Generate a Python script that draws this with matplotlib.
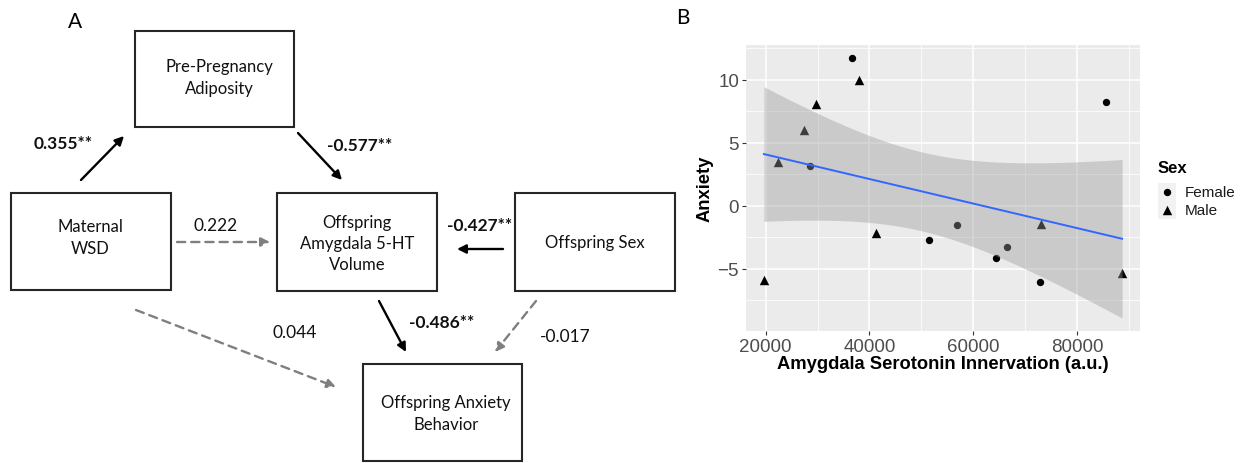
import numpy as np
import matplotlib
matplotlib.use("Agg")
import matplotlib.pyplot as plt
from matplotlib.patches import Rectangle

W, H = 1242, 464

# panel B data: amygdala 5-HT innervation vs anxiety score
female_x = [28500, 36620, 51530, 56850, 64390, 66570, 72850, 85560]
female_y = [3.16, 11.71, -2.69, -1.53, -4.14, -3.27, -6.05, 8.21]
male_x = [19670, 22300, 27350, 29710, 37960, 41170, 72980, 88640]
male_y = [-5.87, 3.48, 6.03, 8.03, 9.98, -2.19, -1.45, -5.34]
sex_levels = ["Female", "Male"]

# panel A: path model (node labels + coefficients)
node_labels = {
    "adip": "Pre-Pregnancy\nAdiposity",
    "wsd": "Maternal\nWSD",
    "amyg": "Offspring\nAmygdala 5-HT\nVolume",
    "sex": "Offspring Sex",
    "anx": "Offspring Anxiety\nBehavior",
}
path_coefs = ["0.355**", "-0.577**", "0.222", "-0.427**", "-0.486**", "0.044", "-0.017"]
path_signif = [True, True, False, True, True, False, False]

# ---- layout (pixel coords, origin top-left) ----
boxes = {
    "adip": (135, 32, 294, 128),
    "wsd": (11, 194, 171, 291),
    "amyg": (277, 194, 437, 292),
    "sex": (515, 194, 675, 292),
    "anx": (363, 365, 522, 462),
}
text_pos = {
    "adip": (219, 78), "wsd": (90, 238), "amyg": (357, 244),
    "sex": (595, 243), "anx": (446, 414),
}
arrows = [  # (start, end) for each coefficient, same order as path_coefs
    ((81, 181), (124, 137)),
    ((298, 134), (342, 181)),
    ((177, 243), (270, 243)),
    ((503, 250), (457, 250)),
    ((379, 302), (406, 353)),
    ((136, 311), (336, 388)),
    ((536, 302), (495, 353)),
]
coef_pos = [(63, 144), (360, 146), (216, 226), (480, 226), (442, 323), (295, 333), (565, 337)]

FONT_A = ["Lato", "DejaVu Sans"]
FONT_B = ["Liberation Sans", "DejaVu Sans"]

fig = plt.figure(figsize=(W / 100, H / 100), dpi=100)
ax0 = fig.add_axes([0, 0, 1, 1])
ax0.set_xlim(0, W)
ax0.set_ylim(H, 0)
ax0.axis("off")

ax0.text(75, 22, "A", family=FONT_A, fontsize=15, ha="center", va="center")
ax0.text(683, 18, "B", family=FONT_A, fontsize=15, ha="center", va="center")

for key, (l, t, r, b) in boxes.items():
    ax0.add_patch(Rectangle((l, t), r - l, b - t, fill=False, ec="#262626", lw=1.5))
    tx, ty = text_pos[key]
    ax0.text(tx, ty, node_labels[key], family=FONT_A, fontsize=12, ha="center",
             va="center", linespacing=1.42, color="#111111")

for (s, e), coef, sig, (cx, cy) in zip(arrows, path_coefs, path_signif, coef_pos):
    if sig:
        ax0.annotate("", xy=e, xytext=s,
                     arrowprops=dict(arrowstyle="-|>", color="black", lw=1.7,
                                     mutation_scale=13, shrinkA=0, shrinkB=0))
    else:
        ax0.annotate("", xy=e, xytext=s,
                     arrowprops=dict(arrowstyle="-|>", color="#7f7f7f", lw=1.7,
                                     linestyle=(0, (3.5, 2.5)), mutation_scale=13,
                                     shrinkA=0, shrinkB=0))
    ax0.text(cx, cy, coef, family=FONT_A, fontsize=12.5, ha="center", va="center",
             fontweight="bold" if sig else "normal", color="#111111")

# ---- panel B: scatter + lm fit with 95% band ----
pl, pt, pr, pb = 746, 46, 1140, 332
axB = fig.add_axes([pl / W, 1 - pb / H, (pr - pl) / W, (pb - pt) / H])
axB.set_facecolor("#EBEBEB")
for sp in axB.spines.values():
    sp.set_visible(False)

x_all = np.array(female_x + male_x, dtype=float)
y_all = np.array(female_y + male_y, dtype=float)
n = len(x_all)
slope, icpt = np.polyfit(x_all, y_all, 1)
resid = y_all - (slope * x_all + icpt)
s_err = np.sqrt(np.sum(resid ** 2) / (n - 2))
sxx = np.sum((x_all - x_all.mean()) ** 2)
t_crit = 2.1448  # t(0.975, df=14)
xs = np.linspace(x_all.min(), x_all.max(), 80)
fit = slope * xs + icpt
half = t_crit * s_err * np.sqrt(1 / n + (xs - x_all.mean()) ** 2 / sxx)

axB.scatter(female_x, female_y, marker="o", s=28, color="black", lw=0, zorder=2)
axB.scatter(male_x, male_y, marker="^", s=46, color="black", lw=0, zorder=2)
axB.fill_between(xs, fit - half, fit + half, color="#999999", alpha=0.4, lw=0, zorder=3)
axB.plot(xs, fit, color="#3366FF", lw=1.4, zorder=4)

xr = x_all.max() - x_all.min()
axB.set_xlim(x_all.min() - 0.05 * xr, x_all.max() + 0.05 * xr)
ylo = min(y_all.min(), (fit - half).min())
yhi = max(y_all.max(), (fit + half).max())
yr = yhi - ylo
axB.set_ylim(ylo - 0.05 * yr, yhi + 0.05 * yr)

axB.set_xticks([20000, 40000, 60000, 80000])
axB.set_xticks([30000, 50000, 70000, 90000], minor=True)
axB.set_yticks([-5, 0, 5, 10])
axB.set_yticks([-7.5, -2.5, 2.5, 7.5, 12.5], minor=True)
axB.grid(which="major", color="white", lw=1.1)
axB.grid(which="minor", color="white", lw=0.55)
axB.set_axisbelow(True)
axB.tick_params(which="major", length=3, width=0.8, color="#333333",
                labelsize=13.5, labelcolor="#4D4D4D", pad=2)
axB.tick_params(which="minor", length=0)
for lab in axB.get_xticklabels() + axB.get_yticklabels():
    lab.set_family(FONT_B)
axB.set_xlabel("Amygdala Serotonin Innervation (a.u.)", family=FONT_B, fontsize=13.2,
               fontweight="bold", labelpad=0)
axB.set_ylabel("Anxiety", family=FONT_B, fontsize=13.2, fontweight="bold", labelpad=3)

# legend for sex
ax0.text(1158, 169, "Sex", family=FONT_B, fontsize=12, fontweight="bold", ha="left", va="center")
ax0.add_patch(Rectangle((1158, 184), 18, 36, color="#F2F2F2", lw=0))
for i, (lab, mk, sz) in enumerate(zip(sex_levels, ["o", "^"], [28, 46])):
    yk = 193 + 18 * i
    ax0.scatter([1167], [yk], marker=mk, s=sz, color="black", lw=0)
    ax0.text(1185, yk, lab, family=FONT_B, fontsize=11, ha="left", va="center", color="#1a1a1a")

fig.savefig("out.png", dpi=100)
